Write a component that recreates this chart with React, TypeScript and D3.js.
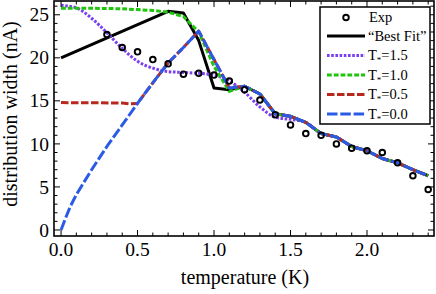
import React from 'react'
import * as d3 from 'd3'

const W = 436
const H = 294
const frame = { left: 54, right: 434, top: 1, bottom: 236 }

// experimental points (temperature K, width nA)
const expT = [0.3, 0.4, 0.5, 0.6, 0.7, 0.8, 0.9, 1.0, 1.1, 1.2, 1.3, 1.4, 1.5, 1.6, 1.7, 1.8, 1.9, 2.0, 2.1, 2.2, 2.3, 2.4]
const expW = [22.7, 21.2, 20.7, 19.8, 19.3, 18.1, 18.2, 18.0, 17.3, 16.3, 15.1, 13.4, 12.2, 11.2, 11.0, 10.0, 9.5, 9.2, 9.0, 7.8, 6.3, 4.7]

// shared high-temperature tail of the model curves
const tail: [number, number][] = [
  [1.2, 16.7], [1.3, 15.8], [1.4, 13.5], [1.5, 13.2], [1.6, 12.5], [1.7, 11.2],
  [1.8, 10.8], [1.9, 9.7], [2.0, 9.2], [2.1, 8.3], [2.2, 7.8], [2.3, 7.0], [2.4, 6.3],
]

const bestFit: [number, number][] = [
  [0, 20.0], [0.7, 25.4], [0.8, 25.2], [0.9, 22.0], [1.0, 16.5], [1.1, 16.3], ...tail,
]
const t15: [number, number][] = [
  [0, 26.1], [0.1, 25.8], [0.2, 24.6], [0.3, 22.9], [0.4, 21.1], [0.5, 19.6], [0.6, 18.8],
  [0.7, 18.4], [0.8, 18.3], [0.9, 18.2], [1.0, 18.0], [1.1, 17.3], [1.2, 16.0], [1.3, 14.3],
  [1.4, 13.1], [1.5, 12.85], ...tail.slice(4),
]
const t10: [number, number][] = [
  [0, 25.75], [0.2, 25.75], [0.4, 25.7], [0.5, 25.6], [0.6, 25.5], [0.7, 25.3], [0.8, 24.8],
  [0.9, 23.0], [1.0, 19.0], [1.1, 16.1], ...tail,
]
const rise: [number, number][] = [
  [0.5, 14.7], [0.6, 17.1], [0.7, 19.4], [0.8, 21.2], [0.9, 23.1], [1.0, 19.8], [1.1, 16.5],
]
const t05: [number, number][] = [[0, 14.8], [0.4, 14.75], [0.45, 14.65], ...rise, ...tail]
const t00: [number, number][] = [
  [0, 0], [0.03, 1.4], [0.06, 2.7], [0.1, 4.1], [0.2, 7.0], [0.3, 9.7], [0.4, 12.2], ...rise, ...tail,
]

const xMajor = [0, 0.5, 1.0, 1.5, 2.0]
const yMajor = [0, 5, 10, 15, 20, 25]

const series = [
  { key: 'best', label: '“Best Fit”', data: bestFit, color: '#000000', dash: '', sub: '' },
  { key: 't15', label: '=1.5', data: t15, color: '#7a3ff0', dash: '2.6 1.6', sub: '*' },
  { key: 't10', label: '=1.0', data: t10, color: '#1fc40c', dash: '4.8 2', sub: '*' },
  { key: 't05', label: '=0.5', data: t05, color: '#b8281e', dash: '7.5 2.5', sub: '*' },
  { key: 't00', label: '=0.0', data: t00, color: '#2a5ae6', dash: '10.5 2.8', sub: '*' },
]

const font = '"Liberation Serif", "Times New Roman", serif'

export default function App() {
  const x = d3.scaleLinear().domain([-0.046, 2.438]).range([frame.left, frame.right])
  const y = d3.scaleLinear().domain([-0.7, 26.6]).range([frame.bottom, frame.top])

  const xMinor = d3.range(0, 25).map(i => i / 10)
  const yMinor = d3.range(0, 27)

  const line = (curve: d3.CurveFactory) =>
    d3.line<[number, number]>().x(d => x(d[0])).y(d => y(d[1])).curve(curve)

  const legY = [17.5, 36, 55.5, 75, 94.5, 114]

  return (
    <svg width={W} height={H} style={{ position: 'fixed', left: 0, top: 0, background: '#fff' }} fontFamily={font}>
      <defs>
        <clipPath id="plot">
          <rect x={frame.left} y={frame.top} width={frame.right - frame.left} height={frame.bottom - frame.top} />
        </clipPath>
      </defs>

      <g clipPath="url(#plot)">
        {series.map(s => (
          <path key={s.key} d={line(s.key === 't15' ? d3.curveMonotoneX : d3.curveLinear)(s.data) || ''}
            fill="none" stroke={s.color} strokeWidth={3} strokeDasharray={s.dash} strokeLinejoin="round" />
        ))}
        {expT.map((t, i) => (
          <circle key={i} cx={x(t)} cy={y(expW[i])} r={2.8} fill="none" stroke="#000" strokeWidth={1.9} />
        ))}
      </g>

      {/* ticks, inward on all four sides */}
      <g stroke="#000" strokeWidth={1}>
        {xMinor.map(v => {
          const major = xMajor.some(m => Math.abs(m - v) < 1e-6)
          const len = major ? 6 : 3.5
          return (
            <g key={'x' + v}>
              <line x1={x(v)} x2={x(v)} y1={frame.bottom} y2={frame.bottom - len} />
              <line x1={x(v)} x2={x(v)} y1={frame.top} y2={frame.top + len} />
            </g>
          )
        })}
        {yMinor.map(v => {
          const len = v % 5 === 0 ? 6 : 3.5
          return (
            <g key={'y' + v}>
              <line x1={frame.left} x2={frame.left + len} y1={y(v)} y2={y(v)} />
              <line x1={frame.right} x2={frame.right - len} y1={y(v)} y2={y(v)} />
            </g>
          )
        })}
      </g>
      <rect x={frame.left} y={frame.top} width={frame.right - frame.left} height={frame.bottom - frame.top}
        fill="none" stroke="#000" strokeWidth={1.6} />

      <g fontSize={19.5} fill="#000">
        {xMajor.map(v => (
          <text key={v} x={x(v)} y={256} textAnchor="middle">{d3.format('.1f')(v)}</text>
        ))}
        {yMajor.map(v => (
          <text key={v} x={49} y={y(v)} dy="0.34em" textAnchor="end">{v}</text>
        ))}
      </g>

      <text x={245} y={284} fontSize={20} textAnchor="middle">temperature (K)</text>
      <text transform="translate(17,114) rotate(-90)" fontSize={20} textAnchor="middle">distribution width (nA)</text>

      {/* legend */}
      <g>
        <rect x={320} y={7} width={110} height={117} fill="#fff" stroke="#000" strokeWidth={1.5} />
        <circle cx={346} cy={legY[0]} r={2.8} fill="none" stroke="#000" strokeWidth={1.9} />
        <text x={369} y={legY[0]} dy="0.33em" fontSize={14.5}>Exp</text>
        {series.map((s, i) => (
          <g key={s.key}>
            <line x1={327} x2={365} y1={legY[i + 1]} y2={legY[i + 1]} stroke={s.color} strokeWidth={3} strokeDasharray={s.dash} />
            <text x={368} y={legY[i + 1]} dy="0.33em" fontSize={14.5}>
              {s.sub ? <>T<tspan fontSize={9} dy="3">{s.sub}</tspan><tspan dy="-3">{s.label}</tspan></> : s.label}
            </text>
          </g>
        ))}
      </g>
    </svg>
  )
}
